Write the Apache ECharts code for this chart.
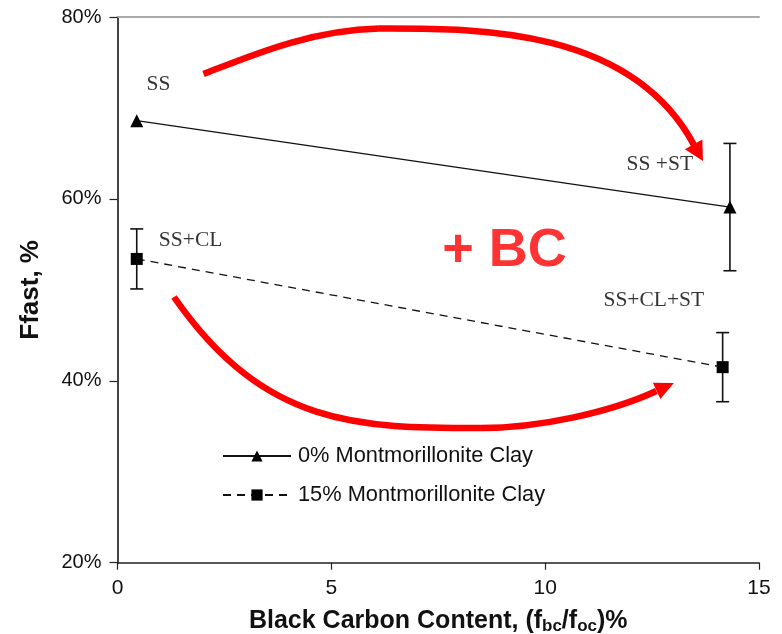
<!DOCTYPE html>
<html>
<head>
<meta charset="utf-8">
<script src="https://cdn.jsdelivr.net/npm/echarts@6/dist/echarts.min.js"></script>
<style>html,body{margin:0;padding:0;background:#fff}#c{width:782px;height:634px}</style>
</head>
<body>
<div id="c"></div>
<script>
// ---- data ----
const seriesNames = ['0% Montmorillonite Clay', '15% Montmorillonite Clay'];
const x0 = [0.45, 14.32];
const y0 = [68.6, 59.1];
const err0 = [0, 7.0];
const x15 = [0.45, 14.15];
const y15 = [53.4, 41.5];
const err15 = [3.3, 3.8];
const xTicks = [0, 5, 10, 15];
const yTicks = [20, 40, 60, 80];
// annotations
const annoText = ['SS', 'SS+CL', 'SS +ST', 'SS+CL+ST'];
const annoX = [0.96, 1.71, 12.68, 12.54];
const annoY = [72.6, 55.4, 63.8, 48.8];
const bcText = '+ BC';
const bcX = [9.05];
const bcY = [54.3];
// red arrows: two cubic bezier segments each [start, c1, c2, mid, c1, c2, end] and tip (data coords)
const arrowTopX = [2.011, 3.098, 4.501, 6.114, 8.242, 11.983, 13.479];
const arrowTopY = [73.733, 75.712, 78.571, 78.736, 78.736, 79.120, 65.926];
const arrowTopTip = [13.69, 64.17];
const arrowBotX = [1.321, 3.449, 5.670, 8.499, 9.878, 11.539, 12.602];
const arrowBotY = [49.214, 34.810, 34.810, 34.810, 34.810, 36.569, 38.878];
const arrowBotTip = [13.01, 39.76];

const zip = (a, b) => a.map((v, i) => [v, b[i]]);
const zip3 = (a, b, c) => a.map((v, i) => [v, b[i], c[i]]);

function errRender(params, api) {
  const x = api.value(0), y = api.value(1), e = api.value(2);
  if (!e) return null;
  const t = api.coord([x, y + e]);
  const b = api.coord([x, y - e]);
  const hw = 6.5;
  const st = {stroke: '#111', lineWidth: 1.6};
  return {type: 'group', children: [
    {type: 'line', shape: {x1: t[0], y1: t[1], x2: b[0], y2: b[1]}, style: st},
    {type: 'line', shape: {x1: t[0] - hw, y1: t[1], x2: t[0] + hw, y2: t[1]}, style: st},
    {type: 'line', shape: {x1: b[0] - hw, y1: b[1], x2: b[0] + hw, y2: b[1]}, style: st}
  ]};
}

const serif = '"Liberation Serif", "DejaVu Serif", serif';
const sans = '"Liberation Sans", Arial, sans-serif';

const chart = echarts.init(document.getElementById('c'));
const option = {
  backgroundColor: '#fff',
  animation: false,
  grid: {left: 117.5, right: 23, top: 17, bottom: 71.3, containLabel: false, outerBoundsMode: 'none'},
  legend: {
    data: seriesNames,
    orient: 'vertical',
    left: 217, top: 440,
    itemWidth: 68, itemHeight: 14, itemGap: 17,
    textStyle: {fontFamily: sans, fontSize: 21.8, color: '#111', padding: [0, 0, 0, 2]}
  },
  xAxis: [{
    type: 'value', min: 0, max: 15, interval: 5,
    name: 'Black Carbon Content, (f{s|bc}/f{s|oc})%',
    nameLocation: 'middle', nameGap: 45,
    nameTextStyle: {fontFamily: sans, fontSize: 25, fontWeight: 'bold', color: '#111',
      rich: {s: {fontFamily: sans, fontSize: 17, fontWeight: 'bold', color: '#111', padding: [10, 0, 0, 0]}}},
    axisLine: {show: true, onZero: false, lineStyle: {color: '#222', width: 1.5}},
    axisTick: {show: true, length: 7, lineStyle: {color: '#222', width: 1.2}},
    axisLabel: {margin: 15, fontFamily: sans, fontSize: 21, color: '#111'},
    splitLine: {show: false}
  }, {
    type: 'value', min: 0, max: 15, position: 'top',
    axisLine: {show: true, lineStyle: {color: '#aaa', width: 2}},
    axisTick: {show: false}, axisLabel: {show: false}, splitLine: {show: false}
  }],
  yAxis: [{
    type: 'value', min: 20, max: 80, interval: 20,
    name: 'Ffast, %', nameLocation: 'middle', nameGap: 74,
    nameTextStyle: {fontFamily: sans, fontSize: 26, fontWeight: 'bold', color: '#111'},
    axisLine: {show: true, onZero: false, lineStyle: {color: '#111', width: 2}},
    axisTick: {show: true, length: 8, lineStyle: {color: '#222', width: 1.2}},
    axisLabel: {margin: 16, fontFamily: sans, fontSize: 20, color: '#111', formatter: '{value}%'},
    splitLine: {show: false}
  }, {
    type: 'value', min: 20, max: 80, position: 'right',
    axisLine: {show: true, lineStyle: {color: '#444', width: 2}},
    axisTick: {show: false}, axisLabel: {show: false}, splitLine: {show: false}
  }],
  series: [
    {
      name: 'err0', type: 'custom', renderItem: errRender, data: zip3(x0, y0, err0), z: 2, silent: true
    },
    {
      name: 'err15', type: 'custom', renderItem: errRender, data: zip3(x15, y15, err15), z: 2, silent: true
    },
    {
      name: seriesNames[0], type: 'line', data: zip(x0, y0),
      symbol: 'triangle', symbolSize: 13, showAllSymbol: true,
      lineStyle: {color: '#111', width: 1.3, type: 'solid'},
      itemStyle: {color: '#000'}, z: 3
    },
    {
      name: seriesNames[1], type: 'line', data: zip(x15, y15),
      symbol: 'rect', symbolSize: 12, showAllSymbol: true,
      lineStyle: {color: '#111', width: 1.3, type: [8, 6]},
      itemStyle: {color: '#000'}, z: 3
    },
    {
      name: 'annotations', type: 'scatter', symbolSize: 1, silent: true,
      itemStyle: {color: 'rgba(0,0,0,0)'},
      data: annoText.map((t, i) => ({name: t, value: [annoX[i], annoY[i]]})),
      label: {show: true, position: 'inside', formatter: p => p.name,
        fontFamily: serif, fontSize: 21.5, color: '#000'}, z: 4
    },
    {
      name: 'bc', type: 'scatter', symbolSize: 1, silent: true,
      itemStyle: {color: 'rgba(0,0,0,0)'},
      data: bcX.map((x, i) => ({name: bcText, value: [x, bcY[i]]})),
      label: {show: true, position: 'inside', formatter: p => p.name,
        fontFamily: sans, fontSize: 54, fontWeight: 'bold', color: '#ff0000'}, z: 4
    }
  ]
};
chart.setOption(option);

const px = p => chart.convertToPixel({gridIndex: 0}, p);
function curves(xs, ys) {
  const p = zip(xs, ys).map(px);
  const out = [];
  for (let i = 0; i + 3 < p.length; i += 3) {
    out.push({type: 'bezierCurve', silent: true, z: 1,
      shape: {x1: p[i][0], y1: p[i][1], cpx1: p[i + 1][0], cpy1: p[i + 1][1],
              cpx2: p[i + 2][0], cpy2: p[i + 2][1], x2: p[i + 3][0], y2: p[i + 3][1]},
      style: {stroke: '#ff0000', lineWidth: 6.5, fill: null, lineCap: 'butt'}});
  }
  return out;
}
function head(tip, fromPt, len, halfW) {
  const t = px(tip);
  const f = px(fromPt);
  let dx = t[0] - f[0], dy = t[1] - f[1];
  const d = Math.sqrt(dx * dx + dy * dy) || 1;
  dx /= d; dy /= d;
  const bx = t[0] - dx * len, by = t[1] - dy * len;
  const nx = -dy, ny = dx;
  return {type: 'polygon', silent: true, z: 5,
    shape: {points: [[t[0], t[1]], [bx + nx * halfW, by + ny * halfW], [bx - nx * halfW, by - ny * halfW]]},
    style: {fill: '#ff0000'}};
}
const nT = arrowTopX.length - 1, nB = arrowBotX.length - 1;
chart.setOption({graphic: [].concat(
  curves(arrowTopX, arrowTopY),
  curves(arrowBotX, arrowBotY),
  [head(arrowTopTip, [arrowTopX[nT], arrowTopY[nT]], 19, 10),
   head(arrowBotTip, [arrowBotX[nB], arrowBotY[nB]], 19, 9)]
)});
</script>
</body>
</html>
